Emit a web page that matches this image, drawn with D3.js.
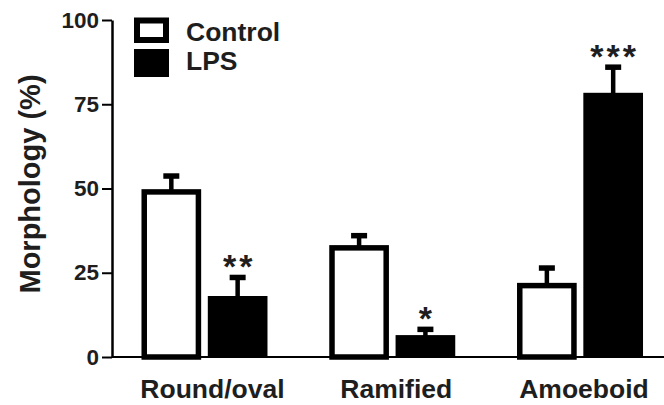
<!DOCTYPE html>
<html>
<head>
<meta charset="utf-8">
<script src="https://cdn.jsdelivr.net/npm/d3@7"></script>
<style>
  html, body { margin: 0; padding: 0; background: #fff; }
  svg { display: block; }
  text { font-family: "Liberation Sans", Arial, sans-serif; font-weight: bold; fill: #1e1e1e; }
</style>
</head>
<body>
<svg id="chart" width="664" height="405"></svg>
<script>
const categories = ["Round/oval", "Ramified", "Amoeboid"];
const series = ["Control", "LPS"];
const controlMeans = [49.8, 33.2, 22.0];
const controlErr = [3.9, 2.8, 4.4];
const lpsMeans = [18.1, 6.5, 78.4];
const lpsErr = [5.5, 1.7, 7.6];
const significance = ["**", "*", "***"];
const yTicks = [0, 25, 50, 75, 100];
const yLabel = "Morphology (%)";

const svg = d3.select("#chart");
const W = 664, H = 405;
const axisX = 112, yBottom = 357, yTop = 20;

const y = d3.scaleLinear().domain([0, 100]).range([yBottom, yTop]);
const x = d3.scaleBand().domain(categories).range([110.6, 673.9]).paddingInner(0).paddingOuter(0);
const xSub = d3.scaleBand().domain(series).range([-63, 63]).paddingInner(0.1);

const data = [];
categories.forEach((c, i) => {
  data.push({cat: c, s: "Control", v: controlMeans[i], e: controlErr[i]});
  data.push({cat: c, s: "LPS", v: lpsMeans[i], e: lpsErr[i]});
});

const bw = xSub.bandwidth();
const sw = 5.5;
const bx = d => x(d.cat) + x.bandwidth() / 2 + xSub(d.s);

// error bars
const eb = svg.append("g");
data.forEach(d => {
  const cx = bx(d) + bw / 2;
  eb.append("line")
    .attr("x1", cx).attr("x2", cx)
    .attr("y1", y(d.v) + 2).attr("y2", y(d.v + d.e))
    .attr("stroke", "#000").attr("stroke-width", 4.5);
  eb.append("rect")
    .attr("x", cx - 8).attr("width", 16)
    .attr("y", y(d.v + d.e) - 2.75).attr("height", 5.5)
    .attr("fill", "#000");
});

// bars
const bars = svg.append("g");
data.forEach(d => {
  if (d.s === "Control") {
    bars.append("rect")
      .attr("x", bx(d) + sw / 2).attr("width", bw - sw)
      .attr("y", y(d.v) + sw / 2).attr("height", yBottom - y(d.v) - sw / 2)
      .attr("fill", "#fff").attr("stroke", "#000").attr("stroke-width", sw);
  } else {
    bars.append("rect")
      .attr("x", bx(d)).attr("width", bw)
      .attr("y", y(d.v)).attr("height", yBottom - y(d.v))
      .attr("fill", "#000");
  }
});

// significance markers
categories.forEach((c, i) => {
  const d = {cat: c, s: "LPS"};
  const cx = bx(d) + bw / 2;
  svg.append("text")
    .attr("x", cx + 1.5).attr("y", y(lpsMeans[i] + lpsErr[i]) - 18 + 19)
    .attr("text-anchor", "middle")
    .attr("font-size", 34)
    .attr("font-weight", "normal")
    .attr("letter-spacing", 3)
    .attr("fill", "#2a2a2a")
    .text(significance[i]);
});

// x axis line
svg.append("line")
  .attr("x1", axisX).attr("x2", W)
  .attr("y1", yBottom).attr("y2", yBottom)
  .attr("stroke", "#000").attr("stroke-width", 2);

// y axis
const yAxis = d3.axisLeft(y).tickValues(yTicks).tickSize(10).tickPadding(3).tickSizeOuter(0);
const gy = svg.append("g").attr("transform", `translate(${axisX},0)`).call(yAxis);
gy.select(".domain").attr("stroke", "#000").attr("stroke-width", 2.5);
gy.selectAll(".tick line").attr("stroke", "#000").attr("stroke-width", 2);
gy.selectAll(".tick text")
  .attr("font-size", 22.5).attr("font-family", "Liberation Sans, Arial, sans-serif")
  .attr("font-weight", "bold").attr("fill", "#1e1e1e");

// category labels
const labelShift = [8, 4, 4];
categories.forEach((c, i) => {
  svg.append("text")
    .attr("x", x(c) + x.bandwidth() / 2 + labelShift[i]).attr("y", 398)
    .attr("text-anchor", "middle")
    .attr("font-size", 26.5)
    .text(c);
});

// y label
svg.append("text")
  .attr("transform", "translate(40,184) rotate(-90)")
  .attr("text-anchor", "middle")
  .attr("font-size", 29)
  .text(yLabel);

// legend
const leg = svg.append("g");
const legY = [17.5, 49];
const legH = [25.5, 28];
series.forEach((s, i) => {
  if (s === "Control") {
    leg.append("rect")
      .attr("x", 134 + 3).attr("y", legY[i] + 3)
      .attr("width", 35 - 6).attr("height", legH[i] - 6)
      .attr("fill", "#fff").attr("stroke", "#000").attr("stroke-width", 6);
  } else {
    leg.append("rect")
      .attr("x", 134).attr("y", legY[i])
      .attr("width", 35).attr("height", legH[i])
      .attr("fill", "#000");
  }
  leg.append("text")
    .attr("x", 186).attr("y", i === 0 ? 41 : 70)
    .attr("font-size", 26.5)
    .text(s);
});
</script>
</body>
</html>
